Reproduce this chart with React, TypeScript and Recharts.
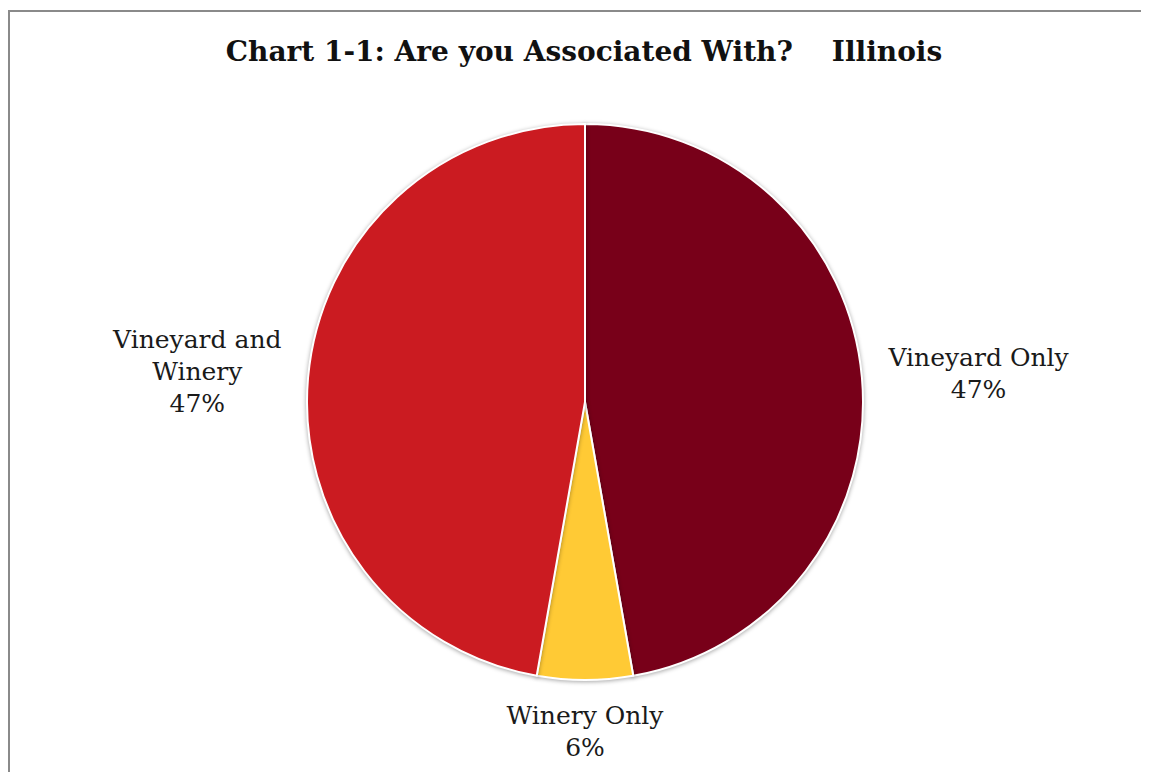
import React from 'react';
import { PieChart, Pie, Cell } from 'recharts';

const categories = ['Vineyard Only', 'Winery Only', 'Vineyard and Winery'];
const labelLines = [['Vineyard Only'], ['Winery Only'], ['Vineyard and', 'Winery']];
const counts = [17, 2, 17];
const colors = ['#780019', '#FFCA35', '#CB1B21'];
const title = 'Chart 1-1: Are you Associated With?\u00a0\u00a0\u00a0\u00a0Illinois';

const data = categories.map((name, i) => ({ name, value: counts[i] }));
const total = counts.reduce((a, b) => a + b, 0);

const FONT_FAMILY = '"DejaVu Serif", serif';
const FS = 25;
const LH = 32;
const RADIAN = Math.PI / 180;

let ctx: CanvasRenderingContext2D | null = null;
function measure(t: string): number {
  if (!ctx) ctx = document.createElement('canvas').getContext('2d');
  if (!ctx) return t.length * FS * 0.6;
  ctx.font = `${FS}px "DejaVu Serif"`;
  return ctx.measureText(t).width;
}

const renderLabel = (props: any) => {
  const { cx, cy, midAngle, outerRadius, index } = props;
  const pct = Math.round((counts[index] / total) * 100);
  const lines = [...labelLines[index], `${pct}%`];
  const w = Math.max(...lines.map(measure));
  const h = lines.length * LH;
  const dx = Math.cos(-midAngle * RADIAN);
  const dy = Math.sin(-midAngle * RADIAN);
  const gap = 19 + 8 * Math.abs(dx);
  const ax = cx + (outerRadius + gap) * dx;
  const ay = cy + (outerRadius + gap) * dy;
  const bx = ax + (dx * w) / 2;
  const by = ay + (dy * h) / 2;
  const y0 = by - ((lines.length - 1) * LH) / 2;
  return (
    <text
      x={bx}
      y={y0}
      textAnchor="middle"
      dominantBaseline="central"
      fill="#1a1a1a"
      style={{ fontFamily: FONT_FAMILY, fontSize: FS }}
    >
      {lines.map((l, i) => (
        <tspan key={i} x={bx} y={y0 + i * LH} dominantBaseline="central">
          {l}
        </tspan>
      ))}
    </text>
  );
};

export default function App() {
  return (
    <div
      style={{
        position: 'relative',
        marginTop: 2,
        width: 1160,
        height: 780,
        borderTop: '2px solid #8a8a8a',
        borderLeft: '2px solid #8a8a8a',
        background: '#fff',
      }}
    >
      <style>{'html{overflow:hidden;}'}</style>
      <div
        style={{
          position: 'absolute',
          left: 74,
          top: 24,
          width: 1000,
          textAlign: 'center',
          fontFamily: FONT_FAMILY,
          fontWeight: 'bold',
          fontSize: 28,
          lineHeight: '32px',
          color: '#111',
          whiteSpace: 'pre',
        }}
      >
        {title}
      </div>
      <PieChart width={1160} height={780} margin={{ top: 0, right: 0, bottom: 0, left: 0 }}>
        <Pie
          data={data}
          dataKey="value"
          nameKey="name"
          cx={575}
          cy={390}
          outerRadius={278}
          startAngle={90}
          endAngle={-270}
          stroke="#ffffff"
          strokeWidth={2}
          label={renderLabel}
          labelLine={false}
          isAnimationActive={false}
          style={{ filter: 'drop-shadow(0px 1px 2px rgba(0,0,0,0.35))' }}
        >
          {data.map((d, i) => (
            <Cell key={d.name} fill={colors[i]} />
          ))}
        </Pie>
      </PieChart>
    </div>
  );
}
